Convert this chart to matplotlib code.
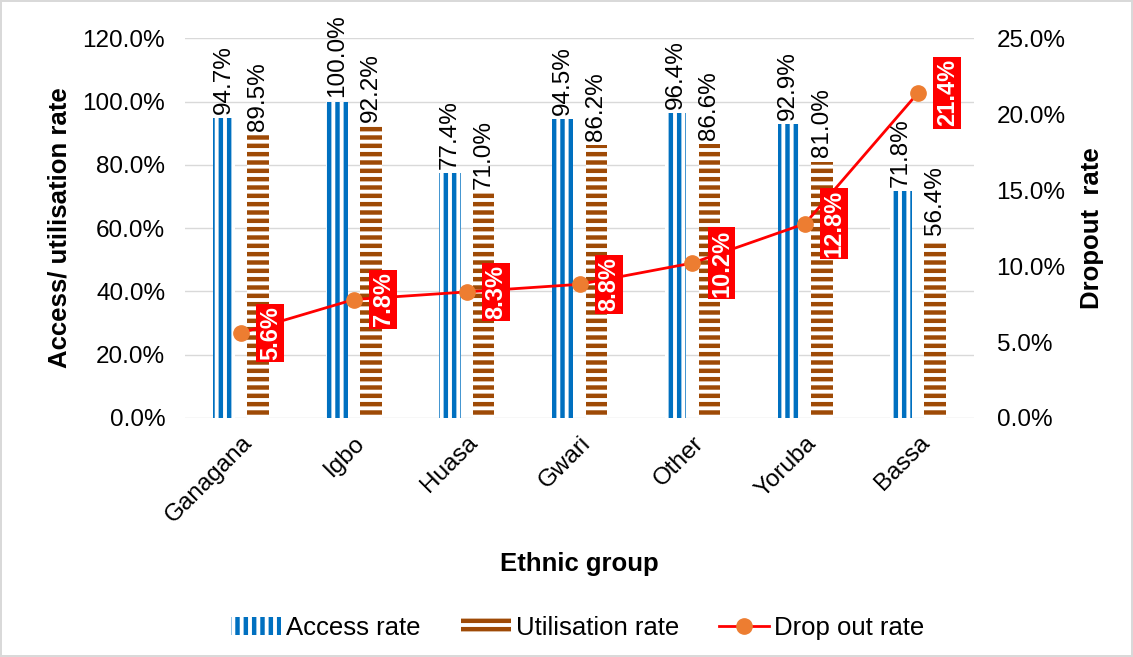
import matplotlib.pyplot as plt
import numpy as np
from matplotlib.ticker import FuncFormatter

plt.rcParams["font.family"] = ["Liberation Sans", "DejaVu Sans"]
plt.rcParams["hatch.linewidth"] = 3.2

groups = ["Ganagana", "Igbo", "Huasa", "Gwari", "Other", "Yoruba", "Bassa"]
access = [94.7, 100.0, 77.4, 94.5, 96.4, 92.9, 71.8]
utilisation = [89.5, 92.2, 71.0, 86.2, 86.6, 81.0, 56.4]
dropout = [5.6, 7.8, 8.3, 8.8, 10.2, 12.8, 21.4]

blue = "#0070C0"
brown = "#9E4A06"
red = "#FF0000"
orange = "#ED7D31"
fs = 17.5

fig = plt.figure(figsize=(11.33, 6.57), dpi=100)
fig.patch.set_edgecolor("#D9D9D9")
fig.patch.set_linewidth(1.5)
ax = fig.add_axes([0.163, 0.3638, 0.697, 0.578])
ax2 = ax.twinx()

x = np.arange(len(groups))
w = 0.19
b1 = ax.bar(x - 0.15, access, w, color="white", edgecolor=blue, hatch="||",
            linewidth=0, label="Access rate")
b2 = ax.bar(x + 0.15, utilisation, w, color="white", edgecolor=brown, hatch="--",
            linewidth=0, label="Utilisation rate")

for bars, vals in ((b1, access), (b2, utilisation)):
    for r, v in zip(bars, vals):
        ax.annotate(f"{v:.1f}%", (r.get_x() + r.get_width() / 2, v),
                    xytext=(0, 3), textcoords="offset points",
                    rotation=90, ha="center", va="bottom", fontsize=fs)

line, = ax2.plot(x, dropout, "-o", color=red, lw=2, marker="o", ms=11,
                 mfc=orange, mec=orange, label="Drop out rate")
for xi, v in zip(x, dropout):
    ax2.annotate(f"{v:.1f}%", (xi, v), xytext=(21, 0), textcoords="offset points",
                 rotation=90, ha="center", va="center", fontsize=17,
                 fontweight="bold", color="white",
                 bbox=dict(boxstyle="square,pad=0.1", fc=red, ec="none"))

ax.set_xlim(-0.5, len(groups) - 0.5)
ax.set_ylim(0, 120)
ax2.set_ylim(0, 25)
ax.set_yticks(np.arange(0, 121, 20))
ax2.set_yticks(np.arange(0, 26, 5))
pct = FuncFormatter(lambda v, p: f"{v:.1f}%")
ax.yaxis.set_major_formatter(pct)
ax2.yaxis.set_major_formatter(pct)

ax.set_xticks(x)
ax.set_xticklabels(groups, rotation=45, ha="right", rotation_mode="anchor")
ax.tick_params(axis="x", length=0, labelsize=fs, pad=10)
ax.tick_params(axis="y", length=0, labelsize=fs, pad=14)
ax2.tick_params(axis="y", length=0, labelsize=fs, pad=16)

ax.yaxis.grid(True, color="#D9D9D9", lw=1)
ax.set_axisbelow(True)
for a in (ax, ax2):
    for s in a.spines.values():
        s.set_visible(False)

ax.set_ylabel("Access/ utilisation rate", fontsize=18.5, fontweight="bold", labelpad=8)
ax2.set_ylabel("Dropout  rate", fontsize=18.5, fontweight="bold", labelpad=10)
ax.set_xlabel("Ethnic group", fontsize=18.5, fontweight="bold", labelpad=18)

fig.legend(handles=[b1, b2, line], loc="center", bbox_to_anchor=(0.51, 0.044),
           ncol=3, frameon=False, fontsize=18.5, handlelength=1.95,
           handletextpad=0.2, columnspacing=1.55)

fig.savefig("out.png", dpi=100)
